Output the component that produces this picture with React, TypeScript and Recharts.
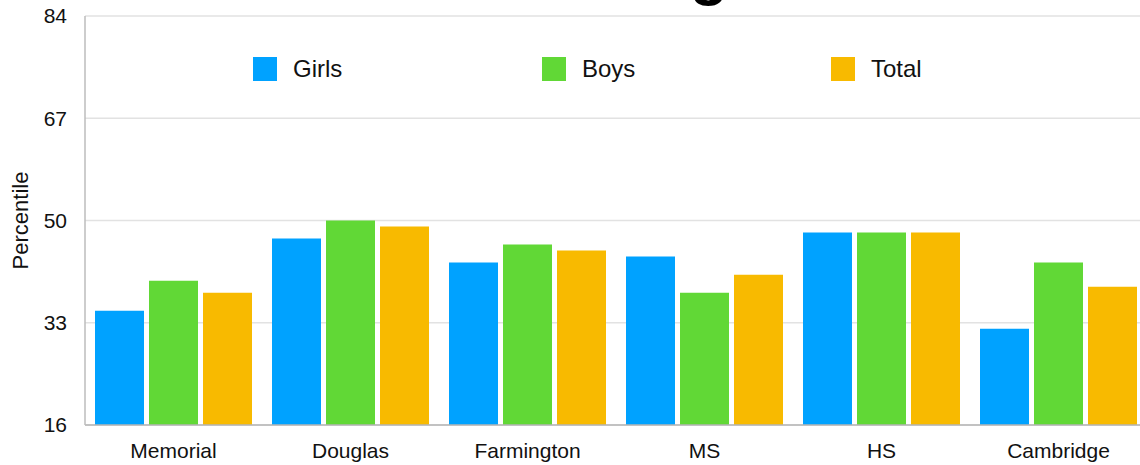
import React from 'react';
import { BarChart, Bar, XAxis, YAxis, CartesianGrid, Legend, Label } from 'recharts';

const categories = ['Memorial', 'Douglas', 'Farmington', 'MS', 'HS', 'Cambridge'];
const girls = [35, 47, 43, 44, 48, 32];
const boys = [40, 50, 46, 38, 48, 43];
const total = [38, 49, 45, 41, 48, 39];
const yTicks = [16, 33, 50, 67, 84];
const seriesNames = ['Girls', 'Boys', 'Total'];
const seriesColors = ['#00A2FF', '#61D836', '#F8BA00'];

const data = categories.map((c, i) => ({ name: c, Girls: girls[i], Boys: boys[i], Total: total[i] }));

const FONT = '"Liberation Sans", Arial, Helvetica, sans-serif';

const LegendContent = (props: any) => {
  const payload = [...(props.payload || [])].sort(
    (a: any, b: any) => seriesNames.indexOf(a.value) - seriesNames.indexOf(b.value)
  );
  return (
    <div style={{ display: 'flex', fontFamily: FONT, fontSize: 24, color: '#111' }}>
      {payload.map((p: any) => (
        <div key={p.value} style={{ width: 289, display: 'flex', alignItems: 'center', height: 24 }}>
          <span style={{ width: 24, height: 24, background: p.color, display: 'inline-block', marginRight: 16 }} />
          <span style={{ lineHeight: '24px' }}>{p.value}</span>
        </div>
      ))}
    </div>
  );
};

const YLabel = (props: any) => {
  const vb = props.viewBox || { x: 0, y: 0, width: 0, height: 0 };
  const cx = vb.x + 20;
  const cy = vb.y + vb.height / 2;
  return (
    <text
      x={cx}
      y={cy}
      transform={`rotate(-90, ${cx}, ${cy})`}
      textAnchor="middle"
      dominantBaseline="central"
      fontFamily={FONT}
      fontSize={22}
      fill="#111"
    >
      Percentile
    </text>
  );
};

export default function App() {
  return (
    <div style={{ position: 'absolute', left: 0, top: 0, width: 1140, height: 465, overflow: 'hidden', background: '#fff' }}>
      <div
        style={{
          position: 'absolute',
          left: 690,
          top: -59,
          fontFamily: FONT,
          fontWeight: 'bold',
          fontSize: 62,
          lineHeight: '62px',
          color: '#000',
        }}
      >
        g
      </div>
      <BarChart
        width={1147}
        height={465}
        data={data}
        margin={{ top: 16, right: 0, bottom: 0, left: 0 }}
        barCategoryGap={10}
        barGap={5}
      >
        <CartesianGrid vertical={false} stroke="#e2e2e2" strokeWidth={1.5} />
        <XAxis
          dataKey="name"
          height={40}
          tickSize={0}
          tickMargin={18}
          axisLine={{ stroke: '#b4b4b4', strokeWidth: 1.5 }}
          tick={{ fontFamily: FONT, fontSize: 21, fill: '#111' }}
        />
        <YAxis
          width={85}
          domain={[16, 84]}
          ticks={yTicks}
          interval={0}
          tickSize={0}
          tickMargin={18}
          axisLine={{ stroke: '#bcbcbc', strokeWidth: 1.5 }}
          tick={{ fontFamily: FONT, fontSize: 21, fill: '#111' }}
        >
          <Label content={<YLabel />} />
        </YAxis>
        <Legend
          verticalAlign="middle"
          align="center"
          content={<LegendContent />}
          wrapperStyle={{ position: 'absolute', left: 253, top: 57, width: 900 }}
        />
        {seriesNames.map((s, i) => (
          <Bar key={s} dataKey={s} fill={seriesColors[i]} isAnimationActive={false} />
        ))}
      </BarChart>
    </div>
  );
}
